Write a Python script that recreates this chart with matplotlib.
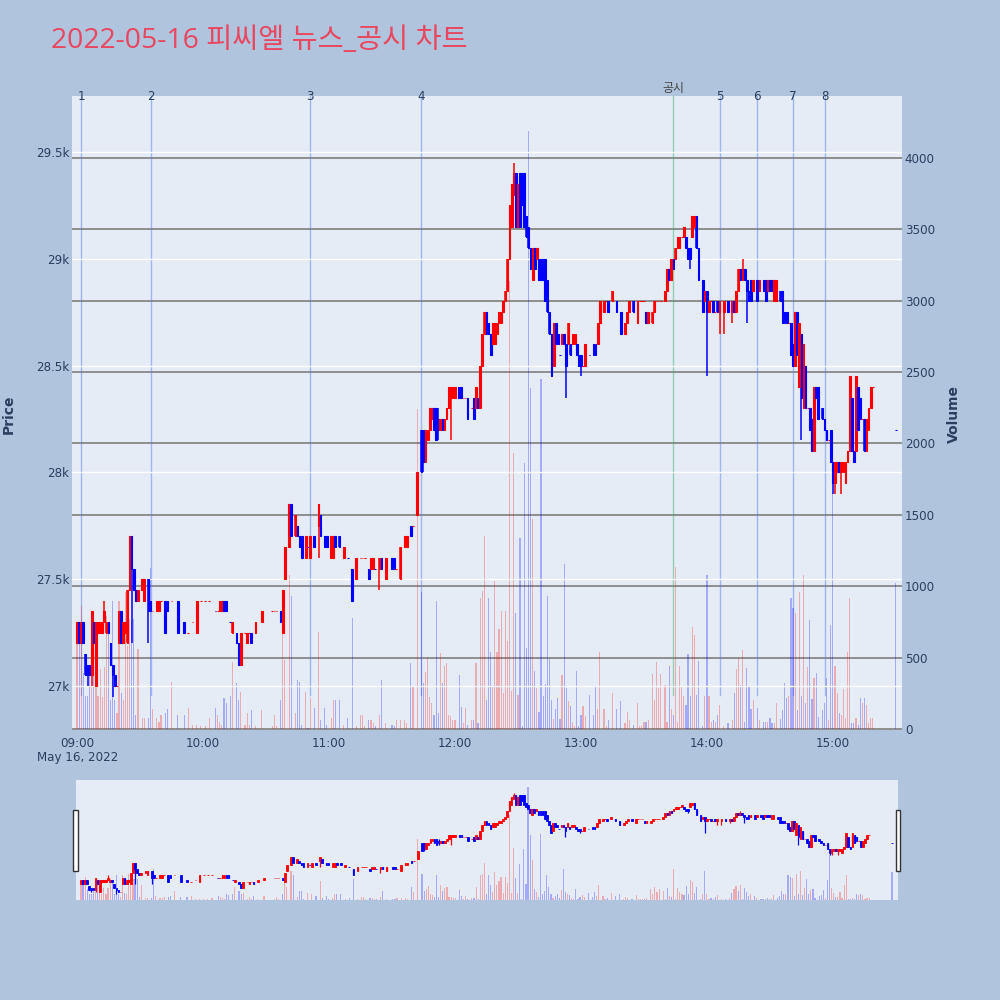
import numpy as np
import matplotlib.pyplot as plt
from matplotlib.patches import Rectangle
import matplotlib.transforms as mtransforms

plt.rcParams['font.family'] = ['DejaVu Sans', 'Noto Sans CJK KR']

title = '2022-05-16 피씨엘 뉴스_공시 차트'

# minutes after 09:00 for each 1-minute candle
minute = [0, 1, 2, 3, 4, 5, 6, 7, 8, 9,
          10, 11, 12, 13, 14, 15, 16, 17, 18, 19,
          20, 21, 22, 23, 24, 25, 26, 27, 28, 29,
          31, 32, 34, 35, 36, 38, 39, 40, 42, 43,
          45, 48, 51, 53, 55, 57, 59, 61, 63, 66,
          67, 68, 69, 70, 71, 73, 74, 76, 77, 78,
          80, 81, 82, 83, 85, 88, 93, 94, 95, 97,
          98, 99, 101, 102, 104, 105, 106, 107, 109, 110,
          111, 113, 115, 116, 118, 119, 121, 122, 123, 125,
          127, 129, 131, 133, 135, 136, 137, 139, 140, 141,
          142, 144, 145, 147, 150, 151, 152, 154, 156, 157,
          159, 160, 162, 164, 165, 166, 167, 168, 169, 170,
          171, 172, 173, 174, 175, 176, 177, 178, 179, 180,
          182, 183, 184, 185, 186, 188, 189, 190, 191, 192,
          193, 194, 195, 196, 197, 198, 199, 200, 201, 202,
          203, 204, 205, 206, 207, 208, 209, 210, 211, 212,
          213, 214, 215, 216, 217, 218, 219, 220, 221, 222,
          223, 224, 225, 226, 227, 228, 229, 230, 231, 232,
          233, 234, 235, 236, 237, 238, 239, 240, 241, 242,
          244, 246, 247, 248, 249, 251, 252, 253, 255, 257,
          259, 261, 262, 263, 265, 267, 268, 269, 270, 271,
          272, 274, 275, 276, 277, 278, 280, 281, 282, 283,
          284, 285, 286, 287, 288, 289, 290, 291, 292, 293,
          294, 295, 296, 298, 299, 300, 301, 302, 303, 304,
          305, 306, 308, 310, 312, 313, 314, 315, 316, 317,
          318, 319, 320, 321, 322, 324, 325, 327, 328, 329,
          330, 331, 332, 333, 335, 336, 337, 338, 339, 340,
          341, 342, 343, 344, 345, 346, 347, 348, 349, 350,
          351, 352, 353, 355, 356, 357, 358, 359, 360, 361,
          362, 363, 364, 365, 366, 367, 368, 369, 370, 371,
          372, 373, 374, 375, 376, 377, 378, 379, 390]

open_ = [27200, 27300, 27200, 27300, 27150, 27100, 27100, 27050, 27300, 27000,
         27250, 27250, 27250, 27300, 27250, 27300, 27200, 27100, 27050, 27000,
         27200, 27350, 27200, 27250, 27200, 27450, 27700, 27550, 27450, 27400,
         27450, 27400, 27500, 27400, 27350, 27350, 27350, 27400, 27400, 27400,
         27400, 27400, 27300, 27250, 27300, 27250, 27400, 27400, 27400, 27350,
         27350, 27350, 27350, 27400, 27400, 27300, 27250, 27250, 27200, 27100,
         27250, 27200, 27250, 27250, 27250, 27300, 27350, 27350, 27350, 27350,
         27250, 27500, 27650, 27850, 27700, 27750, 27700, 27700, 27600, 27650,
         27600, 27700, 27750, 27800, 27700, 27700, 27600, 27600, 27700, 27700,
         27600, 27600, 27550, 27500, 27600, 27600, 27600, 27550, 27550, 27550,
         27550, 27550, 27600, 27500, 27600, 27600, 27550, 27500, 27650, 27650,
         27750, 27750, 27800, 28200, 28200, 28050, 28150, 28200, 28250, 28300,
         28300, 28250, 28200, 28250, 28200, 28250, 28300, 28350, 28350, 28350,
         28400, 28400, 28350, 28350, 28350, 28300, 28350, 28300, 28350, 28300,
         28500, 28650, 28750, 28700, 28650, 28600, 28600, 28650, 28700, 28700,
         28750, 28800, 28850, 29000, 29150, 29300, 29400, 29150, 29400, 29400,
         29400, 29200, 29150, 29050, 28900, 29050, 29000, 29000, 29000, 29000,
         29000, 28900, 28750, 28650, 28500, 28700, 28650, 28550, 28600, 28650,
         28600, 28600, 28600, 28600, 28600, 28600, 28550, 28550, 28500, 28500,
         28550, 28600, 28600, 28600, 28700, 28750, 28800, 28800, 28800, 28800,
         28750, 28650, 28700, 28750, 28800, 28700, 28800, 28800, 28800, 28750,
         28700, 28700, 28750, 28800, 28800, 28800, 28800, 28850, 28950, 28900,
         29000, 29000, 29050, 29050, 29100, 29100, 29100, 29050, 29050, 29100,
         29150, 29200, 29050, 28900, 28800, 28850, 28750, 28800, 28800, 28750,
         28800, 28750, 28750, 28800, 28750, 28800, 28750, 28850, 28950, 28900,
         28950, 28900, 28850, 28900, 28850, 28900, 28850, 28900, 28900, 28850,
         28900, 28900, 28800, 28800, 28850, 28850, 28750, 28750, 28700, 28700,
         28600, 28500, 28750, 28400, 28650, 28300, 28500, 28300, 28300, 28250,
         28100, 28400, 28400, 28300, 28250, 28200, 28150, 28200, 28050, 27950,
         28000, 28050, 28000, 28000, 27950, 28050, 28100, 28350, 28100, 28100,
         28400, 28350, 28250, 28250, 28100, 28200, 28300, 28400, 28200]

high = [27300, 27300, 27300, 27300, 27150, 27100, 27100, 27350, 27300, 27300,
        27300, 27300, 27300, 27400, 27300, 27300, 27200, 27100, 27050, 27000,
        27350, 27350, 27300, 27300, 27450, 27700, 27700, 27550, 27450, 27450,
        27500, 27500, 27500, 27400, 27350, 27400, 27400, 27400, 27400, 27400,
        27400, 27400, 27300, 27250, 27300, 27400, 27400, 27400, 27400, 27350,
        27350, 27400, 27400, 27400, 27400, 27300, 27300, 27250, 27200, 27250,
        27250, 27250, 27250, 27250, 27300, 27350, 27350, 27350, 27350, 27350,
        27450, 27650, 27850, 27850, 27800, 27750, 27700, 27700, 27700, 27650,
        27700, 27700, 27850, 27800, 27700, 27700, 27700, 27700, 27700, 27700,
        27650, 27600, 27550, 27600, 27600, 27600, 27600, 27550, 27600, 27600,
        27550, 27600, 27600, 27600, 27600, 27600, 27550, 27650, 27700, 27700,
        27750, 27750, 28000, 28200, 28200, 28200, 28200, 28300, 28300, 28300,
        28300, 28300, 28250, 28250, 28250, 28300, 28400, 28400, 28400, 28400,
        28400, 28400, 28350, 28350, 28350, 28300, 28350, 28400, 28350, 28500,
        28650, 28750, 28750, 28700, 28650, 28700, 28700, 28700, 28750, 28750,
        28800, 28850, 29000, 29250, 29350, 29450, 29400, 29350, 29400, 29400,
        29400, 29200, 29150, 29050, 29050, 29050, 29050, 29000, 29000, 29000,
        29000, 28900, 28750, 28650, 28700, 28700, 28650, 28550, 28650, 28650,
        28600, 28700, 28600, 28650, 28650, 28600, 28550, 28550, 28500, 28600,
        28550, 28600, 28600, 28700, 28800, 28800, 28800, 28800, 28850, 28800,
        28750, 28700, 28750, 28800, 28800, 28800, 28800, 28800, 28800, 28750,
        28750, 28750, 28800, 28800, 28800, 28800, 28850, 28950, 28950, 29000,
        29000, 29050, 29100, 29100, 29100, 29150, 29100, 29050, 29050, 29200,
        29200, 29200, 29050, 28900, 28850, 28850, 28800, 28800, 28800, 28750,
        28800, 28800, 28800, 28800, 28800, 28800, 28850, 28950, 28950, 29000,
        28950, 28900, 28850, 28900, 28900, 28900, 28900, 28900, 28900, 28900,
        28900, 28900, 28900, 28900, 28850, 28850, 28750, 28750, 28700, 28700,
        28600, 28750, 28750, 28700, 28650, 28600, 28500, 28300, 28300, 28250,
        28400, 28400, 28400, 28300, 28250, 28200, 28150, 28200, 28050, 28050,
        28050, 28050, 28050, 28050, 28050, 28100, 28450, 28350, 28100, 28450,
        28400, 28350, 28250, 28250, 28250, 28300, 28400, 28400, 28200]

low = [27200, 27200, 27200, 27200, 27050, 27000, 27050, 27000, 27200, 27000,
       27250, 27250, 27250, 27300, 27250, 27250, 27100, 26950, 27000, 27000,
       27200, 27200, 27200, 27250, 27200, 27450, 27200, 27450, 27400, 27400,
       27450, 27400, 27200, 27350, 27350, 27350, 27350, 27400, 27250, 27350,
       27400, 27250, 27250, 27250, 27300, 27250, 27400, 27400, 27400, 27350,
       27350, 27350, 27350, 27350, 27350, 27300, 27250, 27200, 27100, 27100,
       27250, 27200, 27250, 27200, 27250, 27300, 27350, 27350, 27350, 27300,
       27250, 27500, 27650, 27700, 27700, 27700, 27650, 27600, 27600, 27650,
       27600, 27650, 27600, 27700, 27650, 27650, 27600, 27600, 27650, 27650,
       27600, 27600, 27400, 27500, 27600, 27600, 27600, 27500, 27550, 27550,
       27550, 27450, 27550, 27500, 27550, 27550, 27550, 27500, 27650, 27650,
       27700, 27750, 27800, 28000, 28000, 28050, 28150, 28200, 28250, 28200,
       28150, 28150, 28200, 28200, 28200, 28250, 28300, 28150, 28350, 28350,
       28350, 28350, 28350, 28350, 28250, 28300, 28250, 28300, 28300, 28300,
       28500, 28650, 28650, 28650, 28550, 28600, 28600, 28650, 28700, 28700,
       28750, 28800, 28850, 29000, 29150, 29300, 29150, 29150, 29150, 29250,
       29150, 29100, 29050, 28950, 28900, 28950, 29000, 28900, 28900, 28900,
       28800, 28750, 28650, 28450, 28500, 28600, 28600, 28550, 28600, 28600,
       28350, 28600, 28550, 28600, 28600, 28550, 28500, 28450, 28500, 28500,
       28550, 28550, 28550, 28600, 28700, 28750, 28800, 28750, 28800, 28750,
       28650, 28650, 28700, 28750, 28750, 28700, 28800, 28800, 28800, 28700,
       28700, 28700, 28750, 28800, 28800, 28800, 28800, 28850, 28900, 28900,
       28950, 29000, 29050, 29050, 29100, 29100, 29050, 29000, 28950, 29100,
       29150, 29050, 28900, 28750, 28800, 28450, 28750, 28800, 28750, 28750,
       28750, 28650, 28650, 28750, 28700, 28750, 28750, 28850, 28900, 28900,
       28900, 28700, 28800, 28800, 28850, 28800, 28850, 28850, 28800, 28850,
       28850, 28850, 28800, 28800, 28800, 28700, 28700, 28700, 28700, 28550,
       28500, 28500, 28550, 28400, 28150, 28300, 28300, 28300, 28200, 28100,
       28100, 28350, 28250, 28250, 28200, 28150, 28150, 28050, 27900, 27900,
       28000, 28000, 27900, 28000, 27950, 28050, 28100, 28100, 28050, 28100,
       28200, 28250, 28250, 28100, 28100, 28200, 28300, 28400, 28200]

close = [27300, 27200, 27300, 27200, 27050, 27050, 27050, 27350, 27200, 27300,
         27300, 27300, 27300, 27350, 27300, 27250, 27100, 27050, 27000, 27000,
         27350, 27200, 27300, 27300, 27450, 27700, 27550, 27450, 27400, 27450,
         27500, 27500, 27350, 27350, 27350, 27400, 27400, 27400, 27250, 27350,
         27400, 27250, 27250, 27250, 27300, 27400, 27400, 27400, 27400, 27350,
         27350, 27400, 27400, 27350, 27350, 27300, 27300, 27200, 27100, 27250,
         27250, 27250, 27250, 27200, 27300, 27350, 27350, 27350, 27350, 27300,
         27450, 27650, 27850, 27700, 27800, 27700, 27650, 27600, 27700, 27650,
         27700, 27650, 27850, 27700, 27650, 27650, 27700, 27700, 27650, 27650,
         27650, 27600, 27400, 27600, 27600, 27600, 27600, 27500, 27600, 27600,
         27550, 27600, 27550, 27600, 27550, 27550, 27550, 27650, 27700, 27700,
         27700, 27750, 28000, 28000, 28050, 28200, 28200, 28300, 28300, 28200,
         28150, 28200, 28250, 28200, 28250, 28300, 28400, 28400, 28400, 28400,
         28350, 28350, 28350, 28350, 28250, 28300, 28250, 28400, 28300, 28500,
         28650, 28750, 28650, 28650, 28550, 28700, 28700, 28700, 28750, 28750,
         28800, 28850, 29000, 29250, 29350, 29400, 29150, 29350, 29150, 29250,
         29150, 29100, 29050, 28950, 29050, 28950, 29050, 28900, 28900, 28900,
         28800, 28750, 28650, 28450, 28700, 28600, 28600, 28550, 28650, 28600,
         28500, 28700, 28550, 28650, 28650, 28550, 28500, 28500, 28500, 28600,
         28550, 28550, 28550, 28700, 28800, 28800, 28800, 28750, 28850, 28750,
         28650, 28700, 28750, 28800, 28750, 28800, 28800, 28800, 28800, 28700,
         28750, 28750, 28800, 28800, 28800, 28800, 28850, 28950, 28900, 29000,
         28950, 29050, 29100, 29100, 29100, 29150, 29050, 29000, 29000, 29200,
         29200, 29050, 28900, 28750, 28850, 28750, 28800, 28800, 28750, 28750,
         28750, 28800, 28800, 28750, 28800, 28750, 28850, 28950, 28900, 28950,
         28900, 28850, 28800, 28800, 28900, 28800, 28900, 28850, 28800, 28900,
         28850, 28850, 28900, 28900, 28800, 28700, 28700, 28700, 28700, 28550,
         28500, 28750, 28550, 28700, 28350, 28600, 28300, 28300, 28200, 28100,
         28400, 28350, 28250, 28250, 28200, 28150, 28150, 28050, 27950, 28050,
         28050, 28000, 28050, 28050, 28050, 28100, 28450, 28100, 28050, 28450,
         28200, 28250, 28250, 28100, 28250, 28300, 28400, 28400, 28200]

volume = [690, 600, 860, 390, 230, 230, 390, 300, 650, 600,
          230, 420, 226, 436, 790, 710, 200, 900, 200, 112,
          900, 250, 200, 960, 580, 770, 760, 770, 100, 560,
          75, 75, 75, 1130, 140, 75, 50, 100, 110, 140,
          330, 100, 100, 150, 30, 30, 20, 20, 75, 150,
          100, 50, 30, 215, 180, 230, 470, 320, 200, 260,
          30, 110, 30, 130, 20, 130, 20, 100, 20, 200,
          680, 480, 1080, 930, 110, 340, 330, 30, 260, 10,
          215, 150, 680, 60, 150, 30, 80, 200, 200, 200,
          30, 80, 775, 20, 98, 100, 20, 60, 60, 40,
          20, 98, 343, 40, 30, 20, 60, 60, 60, 40,
          460, 300, 2245, 960, 320, 400, 495, 225, 180, 100,
          900, 110, 530, 320, 440, 460, 100, 90, 60, 60,
          380, 156, 40, 150, 30, 60, 60, 460, 40, 915,
          970, 1350, 200, 915, 540, 300, 1040, 540, 700, 830,
          250, 830, 619, 3137, 265, 1930, 810, 240, 1340, 20,
          1865, 570, 4190, 2389, 1471, 409, 290, 120, 2450, 230,
          317, 933, 490, 200, 68, 140, 215, 68, 375, 1156,
          290, 199, 160, 50, 20, 409, 20, 100, 160, 90,
          240, 100, 300, 140, 540, 140, 20, 60, 250, 140,
          199, 40, 120, 60, 30, 180, 20, 20, 48, 48,
          60, 382, 200, 470, 290, 382, 311, 48, 440, 140,
          100, 1135, 48, 440, 300, 230, 170, 526, 230, 717,
          657, 235, 478, 20, 230, 1076, 230, 48, 60, 48,
          100, 170, 20, 40, 60, 250, 418, 500, 311, 550,
          48, 430, 300, 140, 200, 150, 60, 48, 48, 48,
          75, 40, 40, 180, 70, 130, 320, 215, 230, 915,
          845, 815, 133, 962, 230, 1078, 180, 437, 763, 210,
          355, 390, 85, 133, 180, 355, 60, 728, 1650, 440,
          250, 110, 100, 280, 75, 541, 915, 40, 40, 75,
          30, 215, 180, 215, 165, 40, 75, 75, 1020]

news_times = ['09:02', '09:35', '10:51', '11:44', '13:44', '14:06', '14:24', '14:41', '14:56']
news_labels = ['1', '2', '3', '4', '공시', '5', '6', '7', '8']

hour_ticks = ['09:00', '10:00', '11:00', '12:00', '13:00', '14:00', '15:00']
price_ticks = [27000, 27500, 28000, 28500, 29000, 29500]
price_labels = ['27k', '27.5k', '28k', '28.5k', '29k', '29.5k']
volume_ticks = [0, 500, 1000, 1500, 2000, 2500, 3000, 3500, 4000]


def to_minute(t):
    h, m = t.split(':')
    return (int(h) - 9) * 60 + int(m)


x = np.array(minute, dtype=float)
o = np.array(open_, dtype=float)
h = np.array(high, dtype=float)
l = np.array(low, dtype=float)
c = np.array(close, dtype=float)
v = np.array(volume, dtype=float)

prev_c = np.r_[c[0], c[:-1]]
up = (c > o) | ((c == o) & (c >= prev_c))
ccol = np.where(up, '#FF0000', '#0000FF')

XLIM = (-2.4, 392.9)
PLIM = (26794, 29762)
VLIM = (-7, 4434)
TXT = '#2A3F5F'
FS = 8.6

fig = plt.figure(figsize=(10, 10), dpi=100, facecolor='#B0C4DE')


def draw_panel(ax_v, ax_p, wick_lw, body_lw):
    ax_v.set_facecolor('#E5ECF6')
    ax_v.bar(x, v, width=0.55, color=ccol, alpha=0.28, linewidth=0, zorder=2)
    ax_p.vlines(x, l, h, colors=ccol, linewidth=wick_lw, zorder=3)
    ax_p.bar(x, np.abs(c - o), bottom=np.minimum(o, c), width=0.8,
             color=ccol, edgecolor=ccol, linewidth=body_lw, zorder=4)
    ax_v.set_xlim(*XLIM)
    ax_v.set_ylim(*VLIM)
    ax_p.set_ylim(*PLIM)
    for a in (ax_v, ax_p):
        for s in a.spines.values():
            s.set_visible(False)


# main chart
ax_v = fig.add_axes([0.072, 0.270, 0.830, 0.634])
ax_p = ax_v.twinx()
draw_panel(ax_v, ax_p, 1.1, 0.8)

ax_v.set_axisbelow(True)
ax_v.set_yticks(volume_ticks)
ax_v.set_yticklabels([str(t) for t in volume_ticks])
ax_v.yaxis.set_ticks_position('right')
ax_v.grid(axis='y', color='#8E8E8E', linewidth=1.4, zorder=1)
ax_v.grid(axis='x', visible=False)
ax_v.tick_params(axis='y', length=0, pad=2, labelsize=FS, labelcolor=TXT,
                 left=False, right=True, labelleft=False, labelright=True)
ax_v.set_xticks([to_minute(t) for t in hour_ticks])
ax_v.set_xticklabels(hour_ticks)
ax_v.tick_params(axis='x', length=0, pad=5, labelsize=FS, labelcolor=TXT)

ax_p.set_yticks(price_ticks)
ax_p.set_yticklabels(price_labels)
ax_p.yaxis.set_ticks_position('left')
ax_p.tick_params(axis='y', length=0, pad=2, labelsize=FS, labelcolor=TXT,
                 left=True, right=False, labelleft=True, labelright=False)
ax_p.grid(axis='y', color='white', linewidth=1.0, zorder=0)

trans = mtransforms.blended_transform_factory(ax_v.transData, ax_v.transAxes)
for t, lab in zip(news_times, news_labels):
    xm = to_minute(t)
    if lab == '공시':
        ax_v.axvline(xm, ymin=0.055, ymax=1, color='#3CB371', alpha=0.5, linewidth=1, zorder=1.5)
        ax_v.text(xm, 1.012, lab, transform=trans, ha='center', va='center',
                  fontsize=FS, color='#444444', clip_on=False,
                  family=['Noto Sans CJK KR', 'DejaVu Sans'])
    else:
        ax_v.axvline(xm, ymin=0.055, ymax=1, color='#5B7FEE', alpha=0.5, linewidth=1, zorder=1.5)
        ax_v.text(xm, 0.999, lab, transform=trans, ha='center', va='center',
                  fontsize=FS, color=TXT, clip_on=False)

fig.text(0.051, 0.959, title, ha='left', va='center', fontsize=20.4, color='#E8475F',
         family=['Open Sans', 'Noto Sans CJK KR'])
fig.text(0.078, 0.2425, 'May 16, 2022', ha='center', va='center', fontsize=FS, color=TXT)
fig.text(0.009, 0.586, 'Price', rotation=90, ha='center', va='center',
         fontsize=10, color=TXT, fontweight='bold')
fig.text(0.954, 0.586, 'Volume', rotation=90, ha='center', va='center',
         fontsize=10, color=TXT, fontweight='bold')

# range slider
ax_sv = fig.add_axes([0.076, 0.100, 0.822, 0.120])
ax_sp = ax_sv.twinx()
draw_panel(ax_sv, ax_sp, 0.9, 0.6)
for a in (ax_sv, ax_sp):
    a.set_xticks([])
    a.set_yticks([])

for hx in (0.0733, 0.8957):
    fig.patches.append(Rectangle((hx, 0.129), 0.0043, 0.061, transform=fig.transFigure,
                                 facecolor='white', edgecolor='#333333', linewidth=1))

fig.savefig('out.png', dpi=100, facecolor=fig.get_facecolor())
